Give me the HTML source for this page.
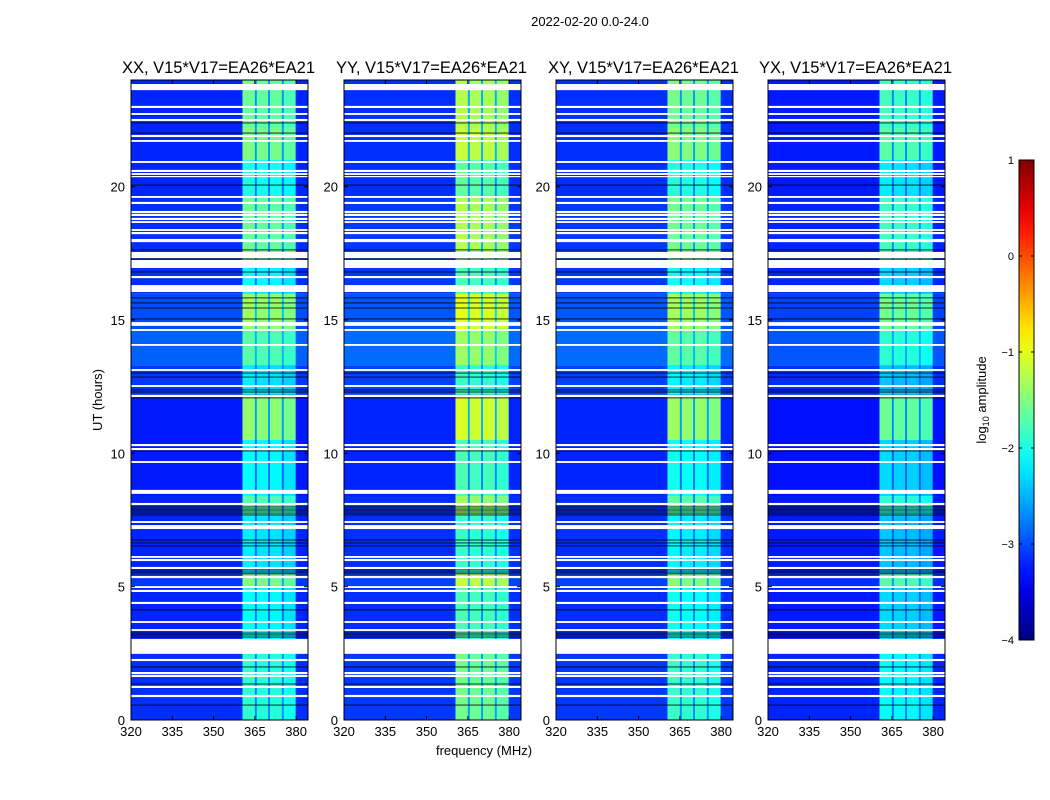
<!DOCTYPE html>
<html><head><meta charset="utf-8">
<style>
html,body{margin:0;padding:0;background:#fff;}
svg{display:block;font-family:"Liberation Sans",sans-serif;}
</style></head>
<body>
<svg id="fig" width="1050" height="800" viewBox="0 0 1050 800" xmlns="http://www.w3.org/2000/svg">
<text x="590" y="26" font-size="13" text-anchor="middle">2022-02-20 0.0-24.0</text>
<text x="484" y="755" font-size="13" text-anchor="middle">frequency (MHz)</text>
<text transform="translate(102,400) rotate(-90)" font-size="13" text-anchor="middle">UT (hours)</text>
<g id="panels"></g>
<g id="cbar"></g>
</svg>
<script>
// ---- data ----
const panelTitles = ["XX, V15*V17=EA26*EA21","YY, V15*V17=EA26*EA21","XY, V15*V17=EA26*EA21","YX, V15*V17=EA26*EA21"];
const panelRfiOffset = [0, 0.35, 0.05, -0.2];
const panelBgOffset = [0, 0.05, 0.05, -0.05];
const xTicks = [320,335,350,365,380];
const yTicks = [0,5,10,15,20];
const cbarTicks = [1,0,-1,-2,-3,-4];
// RFI frequency bands (MHz) and relative strength
const rfiBands = [[360.5,365.0],[365.7,369.8],[370.5,374.8],[375.5,379.8]];
const rfiBandLevel = [0.0, -0.05, -0.05, -0.15];
// time segments: [start hour, end hour, rfi log amp, background log amp]
const timeSegments = [
 [0,2.5,-1.9,-3.15],[2.5,5.0,-2.1,-3.2],[5.0,5.5,-1.5,-3.1],[5.5,7.7,-2.2,-3.2],
 [7.7,8.4,-1.7,-3.2],[8.4,10.5,-2.1,-3.25],[10.5,12.2,-1.4,-3.25],[12.2,13.3,-2.2,-3.1],
 [13.3,14.6,-1.7,-2.9],[14.6,16.0,-1.35,-3.0],[16.0,17.3,-2.1,-3.15],[17.3,19.6,-1.6,-3.15],
 [19.6,21.0,-2.0,-3.2],[21.0,22.2,-1.5,-3.2],[22.2,24,-1.6,-3.2]
];
// flagged (white) intervals in hours
const flaggedHours = [
 [23.62,23.85],[22.95,23.03],[22.69,22.76],[22.46,22.54],[21.86,21.94],[21.68,21.75],
 [20.89,20.96],[20.55,20.63],[20.44,20.51],[20.36,20.4],[19.58,19.65],[19.35,19.43],
 [19.01,19.09],[18.9,18.98],[18.75,18.83],[18.64,18.71],[18.34,18.41],[18.22,18.3],
 [17.92,18.04],[17.32,17.55],[16.95,17.25],[16.57,16.65],[16.05,16.31],[14.78,14.92],
 [14.59,14.66],[14.03,14.1],[13.09,13.16],[12.49,12.56],[12.11,12.19],[10.27,10.35],
 [10.12,10.2],[9.64,9.71],[8.48,8.63],[8.06,8.14],[7.39,7.46],[7.16,7.31],[6.08,6.15],
 [5.96,6.04],[5.66,5.74],[5.32,5.4],[4.95,5.02],[4.8,4.88],[4.35,4.43],[3.64,3.71],
 [3.34,3.41],[2.48,3.04],[2.21,2.29],[1.72,1.8],[1.61,1.69],[1.2,1.28],[0.86,0.94]
];
// dark (near-zero) rows in hours
const darkHours = [22.39,22.01,20.06,17.63,17.29,16.8,15.83,15.64,15.45,15.04,13.01,12.86,
 12.38,12.3,12.08,10.09,7.99,7.91,7.84,7.76,7.69,6.75,6.64,6.53,5.63,5.55,5.48,4.13,3.26,3.19,3.11,1.99,1.35,0.56];

// ---- layout ----
const NS="http://www.w3.org/2000/svg";
const panelX=[131,344,556,768], PW=177, PT=80, PB=720;
const fMin=320, fMax=384.3, hMin=0, hMax=24;
function mk(tag,attrs,parent){const e=document.createElementNS(NS,tag);for(const k in attrs)e.setAttribute(k,attrs[k]);parent.appendChild(e);return e;}
function jet(v){
  const r=Math.min(Math.max(Math.min(4*v-1.5,-4*v+4.5),0),1);
  const g=Math.min(Math.max(Math.min(4*v-0.5,-4*v+3.5),0),1);
  const b=Math.min(Math.max(Math.min(4*v+0.5,-4*v+2.5),0),1);
  return `rgb(${Math.round(r*255)},${Math.round(g*255)},${Math.round(b*255)})`;
}
function cmap(l){return jet((l+4)/5);}
const panels=document.getElementById('panels');
panelTitles.forEach((title,p)=>{
  const x0=panelX[p];
  const xs=f=>x0+(f-fMin)/(fMax-fMin)*PW;
  const ys=h=>PB-(h-hMin)/(hMax-hMin)*(PB-PT);
  const g=mk('g',{},panels);
  
  
  timeSegments.forEach(s=>{
    const bg=mk('rect',{x:x0,y:ys(s[1]),width:PW,height:ys(s[0])-ys(s[1]),fill:cmap(s[3]+panelBgOffset[p])},g);
    
    
    const mid=mk('rect',{x:xs(rfiBands[0][0]),y:ys(s[1]),width:xs(rfiBands[3][1])-xs(rfiBands[0][0]),height:ys(s[0])-ys(s[1]),fill:cmap(s[3]+0.35*(s[2]+panelRfiOffset[p]-s[3]))},g);
    
    
    rfiBands.forEach((b,i)=>{
      const r=mk('rect',{x:xs(b[0]),y:ys(s[1]),width:xs(b[1])-xs(b[0]),height:ys(s[0])-ys(s[1]),fill:cmap(s[2]+panelRfiOffset[p]+rfiBandLevel[i])},g);
      
      
    });
  });
  darkHours.forEach(h=>{
    const r=mk('rect',{x:x0,y:ys(h)-0.5,width:PW,height:1,fill:'#000','fill-opacity':0.8},g);
    
    
  });
  flaggedHours.forEach(f=>{
    const r=mk('rect',{x:x0,y:ys(f[1]),width:PW,height:Math.max(ys(f[0])-ys(f[1]),1.2),fill:'#fff'},g);
    
    
  });
  const fr=mk('rect',{x:x0,y:PT,width:PW,height:PB-PT,fill:'none',stroke:'#000','stroke-width':1},g);
  
  
  xTicks.forEach(t=>{
    const x=xs(t);
    mk('line',{x1:x,y1:PB,x2:x,y2:PB-4,stroke:'#000'},g);
    mk('line',{x1:x,y1:PT,x2:x,y2:PT+4,stroke:'#000'},g);
    const tl=mk('text',{x:x,y:PB+16,'font-size':13,'text-anchor':'middle'},g);
    tl.textContent=t;
    
    
  });
  yTicks.forEach(t=>{
    const y=ys(t);
    mk('line',{x1:x0,y1:y,x2:x0+4,y2:y,stroke:'#000'},g);
    mk('line',{x1:x0+PW,y1:y,x2:x0+PW-4,y2:y,stroke:'#000'},g);
    const tl=mk('text',{x:x0-6,y:y+5,'font-size':13,'text-anchor':'end'},g);
    tl.textContent=t;
    
    
  });
  const tt=mk('text',{x:x0+PW/2-1,y:73,'font-size':16.5,'text-anchor':'middle'},g);
  tt.textContent=title;
  
  
});
// colorbar
const cb=document.getElementById('cbar');


const defs=mk('defs',{},cb);
const lg=mk('linearGradient',{id:'jetg',x1:0,y1:1,x2:0,y2:0},defs);
for(let i=0;i<=20;i++){mk('stop',{offset:i/20,'stop-color':jet(i/20)},lg);}
const CX=1019,CW=15,CT=160,CB=640;
mk('rect',{x:CX,y:CT,width:CW,height:CB-CT,fill:'url(#jetg)',stroke:'#000','stroke-width':1},cb);
cbarTicks.forEach(t=>{
  const y=CB-(t+4)/5*(CB-CT);
  mk('line',{x1:CX,y1:y,x2:CX+3,y2:y,stroke:'#000'},cb);
  mk('line',{x1:CX+CW,y1:y,x2:CX+CW-3,y2:y,stroke:'#000'},cb);
  const tl=mk('text',{x:CX-5,y:y+4,'font-size':11,'text-anchor':'end'},cb);
  tl.textContent=(t<0?'\u2212'+(-t):t);
  
  
});
const cl=mk('text',{transform:'translate(986,400) rotate(-90)','font-size':13,'text-anchor':'middle'},cb);
cl.innerHTML='log<tspan font-size="9" dy="3">10</tspan><tspan dy="-3"> amplitude</tspan>';


</script>
</body></html>
